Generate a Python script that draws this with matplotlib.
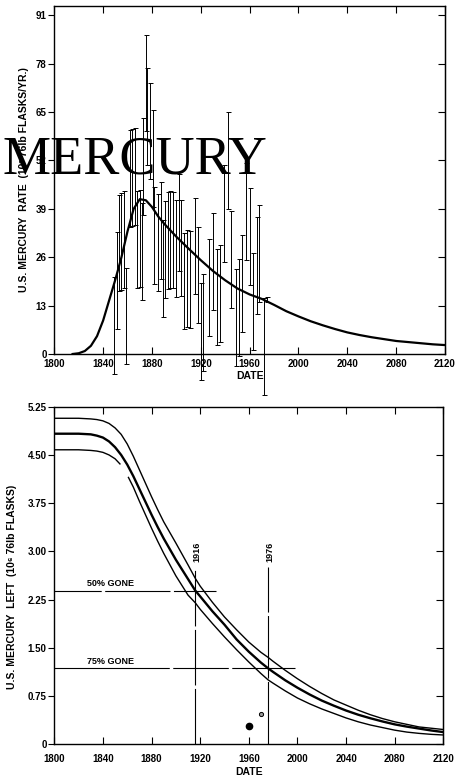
import matplotlib
matplotlib.use("Agg")
import matplotlib.pyplot as plt

plt.rcParams['font.family'] = ['Liberation Sans', 'DejaVu Sans']
plt.rcParams['font.weight'] = 'bold'
plt.rcParams['lines.scale_dashes'] = False

# ---- top panel: production rate (10^3 flasks / yr) ----
rate_years = [1815, 1820, 1825, 1830, 1835, 1840, 1845, 1850, 1855, 1860, 1865, 1870,
              1875, 1880, 1885, 1890, 1900, 1910, 1920, 1930, 1940, 1950, 1960, 1970,
              1980, 1990, 2000, 2010, 2020, 2030, 2040, 2050, 2060, 2070, 2080, 2090,
              2100, 2110, 2120]
rate_fit = [0.0, 0.2, 0.8, 2.2, 4.8, 9.0, 14.5, 20.0, 26.0, 33.0, 39.0, 41.6,
            41.3, 39.5, 37.0, 35.0, 31.5, 28.3, 25.2, 22.3, 19.8, 17.6, 16.0, 14.8,
            13.2, 11.5, 10.1, 8.8, 7.7, 6.7, 5.8, 5.1, 4.5, 4.0, 3.5, 3.2,
            2.9, 2.6, 2.4]

bar_years = [1849, 1851, 1853, 1855, 1857, 1859, 1862, 1864, 1866, 1868, 1870, 1872,
             1873, 1875, 1876, 1878, 1881, 1882, 1885, 1887, 1889, 1891, 1893, 1895,
             1897, 1900, 1902, 1904, 1906, 1909, 1911, 1915, 1918, 1920, 1922, 1927,
             1930, 1933, 1936, 1939, 1942, 1945, 1949, 1951, 1954, 1957, 1960, 1963,
             1966, 1968, 1972]
bar_mid = [7.6, 19.8, 29.8, 30.2, 30.8, 10.2, 47.1, 47.4, 47.6, 30.8, 31.0, 27.5,
           50.4, 72.8, 63.8, 59.9, 52.6, 31.8, 30.0, 33.2, 23.0, 28.0, 30.4, 30.8,
           30.6, 28.3, 35.4, 28.5, 19.6, 20.3, 20.1, 29.0, 21.2, 6.0, 8.5, 17.8,
           24.8, 15.3, 16.2, 37.7, 52.0, 25.3, 9.8, 12.5, 18.9, 38.3, 31.5, 14.2,
           23.8, 27.0, 2.0]
bar_err = 13
last_year, last_mid, last_err = 1974, 14.6, 0.6

rate_ticks = [0, 13, 26, 39, 52, 65, 78, 91]
year_ticks = [1800, 1840, 1880, 1920, 1960, 2000, 2040, 2080, 2120]

# ---- bottom panel: mercury left (10^6 flasks) ----
left_years = [1800, 1820, 1830, 1835, 1840, 1845, 1850, 1855, 1860, 1865, 1870, 1875,
              1880, 1885, 1890, 1900, 1910, 1916, 1920, 1930, 1940, 1950, 1960, 1970,
              1976, 1980, 1990, 2000, 2010, 2020, 2030, 2040, 2050, 2060, 2070, 2080,
              2090, 2100, 2110, 2120]
left_high = [5.07, 5.07, 5.06, 5.05, 5.03, 4.99, 4.92, 4.82, 4.67, 4.48, 4.27, 4.06,
             3.85, 3.65, 3.46, 3.13, 2.79, 2.58, 2.46, 2.21, 1.98, 1.78, 1.59, 1.43,
             1.35, 1.29, 1.15, 1.02, 0.90, 0.79, 0.69, 0.61, 0.53, 0.46, 0.40, 0.35,
             0.31, 0.27, 0.25, 0.23]
left_mid = [4.83, 4.83, 4.82, 4.80, 4.77, 4.71, 4.62, 4.50, 4.35, 4.17, 3.97, 3.77,
            3.57, 3.38, 3.20, 2.87, 2.57, 2.39, 2.30, 2.07, 1.86, 1.63, 1.44, 1.27,
            1.18, 1.125, 0.995, 0.88, 0.775, 0.68, 0.60, 0.525, 0.46, 0.405, 0.355, 0.31,
            0.275, 0.245, 0.215, 0.19]
low_years_a = [1800, 1820, 1830, 1835, 1840, 1845, 1850, 1854]
low_a = [4.58, 4.58, 4.57, 4.56, 4.54, 4.50, 4.44, 4.36]
low_years_b = [1861, 1865, 1870, 1875, 1880, 1885, 1890, 1900, 1910, 1916, 1920, 1930,
               1940, 1950, 1960, 1970, 1976, 1980, 1990, 2000, 2010, 2020, 2030, 2040,
               2050, 2060, 2070, 2080, 2090, 2100, 2110, 2120]
low_b = [4.15, 4.00, 3.78, 3.57, 3.36, 3.16, 2.97, 2.62, 2.32, 2.20, 2.10, 1.88,
         1.67, 1.47, 1.28, 1.10, 1.00, 0.95, 0.83, 0.72, 0.63, 0.55, 0.48, 0.41,
         0.35, 0.30, 0.26, 0.22, 0.19, 0.17, 0.155, 0.145]

half_level, quarter_level = 2.39, 1.18
half_year, quarter_year = 1916, 1976
dot_years = [1960, 1970]
dot_vals = [0.29, 0.47]

left_ticks = [0, 0.75, 1.50, 2.25, 3.00, 3.75, 4.50, 5.25]
left_labels = ['0', '0.75', '1.50', '2.25', '3.00', '3.75', '4.50', '5.25']


def style_axes(ax, yticks, ylabels, xpad):
    ax.set_xticks(year_ticks)
    ax.set_xticklabels([str(y) for y in year_ticks])
    ax.set_yticks(yticks)
    ax.set_yticklabels(ylabels)
    ax.tick_params(axis='x', direction='in', length=5, width=0.8, top=True,
                   labelsize=7, pad=xpad)
    ax.tick_params(axis='y', direction='out', length=4, width=0.8,
                   labelsize=7, pad=1.5)
    for s in ax.spines.values():
        s.set_linewidth(1.0)
    sec = ax.secondary_yaxis('right')
    sec.set_yticks(yticks)
    sec.tick_params(direction='in', length=5, width=0.8, labelright=False)


fig = plt.figure(figsize=(4.56, 7.78), dpi=100)

# top
ax1 = fig.add_axes([54.3 / 456, 1 - 354 / 778, 390.7 / 456, 348 / 778])
ax1.set_xlim(1800, 2120)
ax1.set_ylim(0, 93.5)
ax1.plot(rate_years, rate_fit, color='black', lw=1.6, zorder=3)
eb = ax1.errorbar(bar_years, bar_mid, yerr=bar_err, fmt='none', ecolor='black',
                  elinewidth=0.7, capsize=1.8, capthick=0.7)
eb2 = ax1.errorbar([last_year], [last_mid], yerr=last_err, fmt='none', ecolor='black',
                   elinewidth=0.7, capsize=1.8, capthick=0.7)
for e in (eb, eb2):
    for art in list(e[1]) + list(e[2]):
        art.set_clip_on(False)
style_axes(ax1, rate_ticks, [str(v) for v in rate_ticks], 3.5)
ax1.text(-0.078, 0.5, 'U.S. MERCURY  RATE  (10³ 76lb FLASKS/YR.)', transform=ax1.transAxes,
         rotation=90, ha='center', va='center', fontsize=7.5)
ax1.text(0.5, -0.063, 'DATE', transform=ax1.transAxes, ha='center', va='center',
         fontsize=7.5)

# bottom
ax2 = fig.add_axes([54.3 / 456, 1 - 744.3 / 778, 389 / 456, 337.6 / 778])
ax2.set_xlim(1800, 2120)
ax2.set_ylim(0, 5.25)
ax2.plot(left_years, left_high, color='black', lw=1.0)
ax2.plot(left_years, left_mid, color='black', lw=1.7)
ax2.plot(low_years_a, low_a, color='black', lw=1.0)
ax2.plot(low_years_b, low_b, color='black', lw=1.0)

ax2.plot([1800, 1933], [half_level, half_level], color='black', lw=0.8,
         linestyle=(0, (34, 2.5, 47, 2.5)))
ax2.plot([1800, 1998], [quarter_level, quarter_level], color='black', lw=0.8,
         linestyle=(0, (83, 2.5, 40, 2.5)))
ax2.plot([half_year, half_year], [0, 2.76], color='black', lw=0.8,
         linestyle=(0, (40, 2.5)))
ax2.plot([quarter_year, quarter_year], [0, 2.76], color='black', lw=0.8,
         linestyle=(0, (45, 2.5)))
ax2.text(1827, half_level + 0.04, '50% GONE', fontsize=6.5, ha='left', va='bottom')
ax2.text(1827, quarter_level + 0.04, '75% GONE', fontsize=6.5, ha='left', va='bottom')
ax2.text(half_year + 1, 3.0, str(half_year), rotation=90, fontsize=6.5,
         ha='center', va='center')
ax2.text(quarter_year + 1.5, 3.0, str(quarter_year), rotation=90, fontsize=6.5,
         ha='center', va='center')
ax2.plot(dot_years[:1], dot_vals[:1], 'o', color='black', ms=4.5)
ax2.plot(dot_years[1:], dot_vals[1:], 'o', mfc='#999999', mec='black', mew=0.7, ms=3)
style_axes(ax2, left_ticks, left_labels, 7)
ax2.text(-0.1075, 0.466, 'U.S. MERCURY  LEFT  (10⁶ 76lb FLASKS)', transform=ax2.transAxes,
         rotation=90, ha='center', va='center', fontsize=7.5)
ax2.text(0.5, -0.082, 'DATE', transform=ax2.transAxes, ha='center', va='center',
         fontsize=7.5)

fig.text(3 / 456, 1 - 173 / 778, 'MERCURY', family='Liberation Serif', weight='normal',
         fontsize=39, ha='left', va='baseline', color='black')

fig.savefig('out.png', dpi=100)
